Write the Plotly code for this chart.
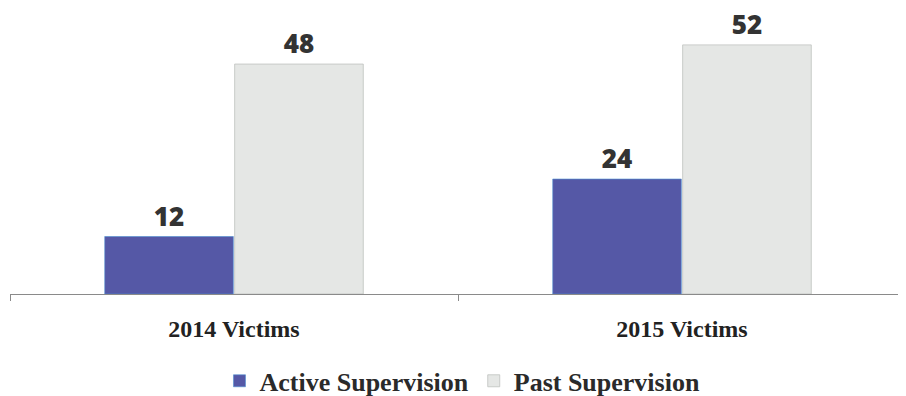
import plotly.graph_objects as go

categories = ["2014 Victims", "2015 Victims"]
active = [12, 24]
past = [48, 52]

label_font = dict(family="Open Sans", size=26, color="#333333", weight=800)

fig = go.Figure()
fig.add_trace(go.Bar(
    x=categories, y=active, name="Active Supervision",
    marker=dict(color="#5558a6", line=dict(color="#4d8fd0", width=0.6)),
    text=active, textposition="outside", cliponaxis=False, textfont=label_font,
))
fig.add_trace(go.Bar(
    x=categories, y=past, name="Past Supervision",
    marker=dict(color="#e5e7e5", line=dict(color="#bfc1bf", width=0.8)),
    text=past, textposition="outside", cliponaxis=False, textfont=label_font,
))

# page is drawn with an 8px body offset, so the figure is a bit smaller than the window
fig.update_layout(
    width=898, height=388,
    margin=dict(l=2, r=0, t=0, b=102, autoexpand=False),
    paper_bgcolor="white", plot_bgcolor="white",
    barmode="group", bargap=0.42, bargroupgap=0.01,
    showlegend=True,
    legend=dict(orientation="h", x=0.505, xanchor="center",
                yref="container", y=0.039, yanchor="middle",
                font=dict(family="Liberation Serif", size=26, color="#2a2a2a", weight="bold"),
                itemwidth=30, traceorder="normal"),
    xaxis=dict(showline=True, linecolor="#8a8a8a", linewidth=1,
               ticks="outside", tickson="boundaries", ticklen=6, tickcolor="#8a8a8a",
               ticklabelstandoff=13,
               tickfont=dict(family="Liberation Serif", size=24, color="#222222", weight="bold")),
    yaxis=dict(range=[0, 59.7], visible=False),
)

fig.write_html("out.html")
